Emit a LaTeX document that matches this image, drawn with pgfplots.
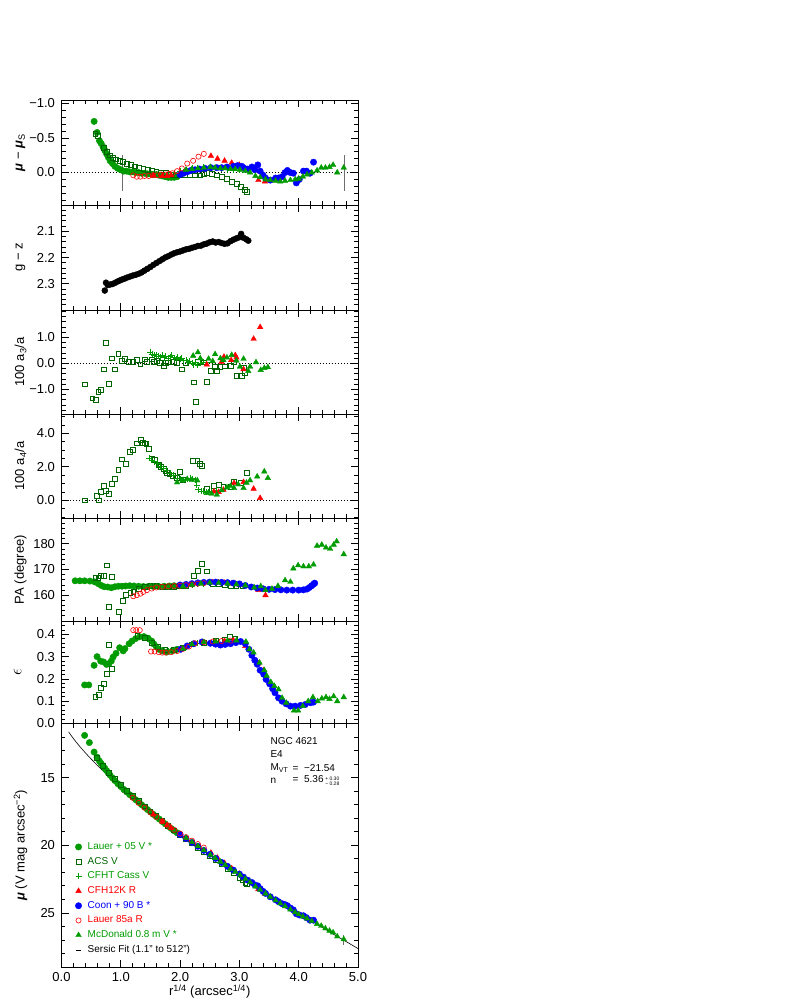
\documentclass[border=0pt]{standalone}
\usepackage{fontspec}
\setmainfont{Liberation Sans}
\usepackage{pgfplots}
\pgfplotsset{compat=1.18}

\definecolor{lgreen}{RGB}{0,155,0}
\definecolor{dgreen}{RGB}{0,100,0}
\definecolor{fitgray}{RGB}{110,110,110}

\newcommand{\bmu}{\textbf{\textit{μ}}}

\pgfplotsset{
  panel/.style={
    at={(61.5pt,#1)}, anchor=south west, scale only axis, width=296.5pt,
    xmin=0, xmax=5, xtick={0,1,2,3,4,5}, minor x tick num=4, xticklabels={},
    tick align=inside, tick pos=both, major tick length=7pt, minor tick length=4pt,
    axis line style={line width=0.9pt},
    every tick/.style={black, line width=0.7pt},
    ticklabel style={font=\fontsize{13}{15}\selectfont},
    yticklabel style={xshift=-3pt},
    label style={font=\fontsize{13}{15}\selectfont},
    every axis y label/.style={at={(axis description cs:-0.138,0.5)}, rotate=90, anchor=center,
      font=\fontsize{13}{15}\selectfont},
  },
  markleg/.style={legend image code/.code={\draw[##1] plot coordinates {(0pt,0pt)};}},
  lineleg/.style={legend image code/.code={\draw[##1] (-2.5pt,0pt) -- (2.5pt,0pt);}},
  lauer05/.style={only marks, mark=*, mark size=3.2pt, color=lgreen},
  acs/.style={only marks, mark=square, mark size=2.4pt, color=dgreen, mark options={line width=0.7pt}},
  cfht/.style={only marks, mark=+, mark size=3pt, color=lgreen, mark options={line width=0.8pt}},
  cfh12k/.style={only marks, mark=triangle*, mark size=3.2pt, color=red},
  coon/.style={only marks, mark=*, mark size=3.2pt, color=blue},
  lauer85/.style={only marks, mark=o, mark size=2.6pt, color=red, mark options={line width=0.6pt}},
  mcd/.style={only marks, mark=triangle*, mark size=3.2pt, color=lgreen},
  zeroline/.style={black, line width=0.8pt, dash pattern=on 1pt off 2pt},
}

\begin{document}
\begin{tikzpicture}
\path[use as bounding box] (0pt,0pt) rectangle (795pt,1004pt);

% ---------------- panel 1: residuals
\begin{axis}[panel=799pt, height=105pt, ymin=-1.05, ymax=0.47, y dir=reverse,
  ytick={-1,-0.5,0}, yticklabels={−1.0,−0.5,0.0}, minor ytick={-1,-0.9,...,0.4},
  ylabel={\bmu\ − \bmu\textsubscript{S}}]
\addplot[zeroline] coordinates {(0,0) (5,0)};
\addplot[fitgray, line width=0.9pt] coordinates {(1.02,-0.25) (1.02,0.27)};
\addplot[fitgray, line width=0.9pt] coordinates {(4.77,-0.25) (4.77,0.27)};
\addplot[lauer05] table {
x y
0.55 -0.74
0.60 -0.58
0.64 -0.46
0.67 -0.42
0.70 -0.37
0.73 -0.32
0.76 -0.27
0.79 -0.22
0.82 -0.17
0.86 -0.13
0.90 -0.09
0.95 -0.06
1.00 -0.04
1.05 -0.02
1.10 -0.02
1.15 -0.01
1.20 -0.01
1.25 0.00
1.30 0.00
1.35 0.01
1.40 0.01
1.45 0.02
1.50 0.02
1.55 0.03
1.60 0.03
1.65 0.04
1.70 0.05
1.75 0.06
1.80 0.07
1.85 0.07
1.90 0.07
1.95 0.06
};
\addplot[acs] table {
x y
0.57 -0.56
0.61 -0.53
0.72 -0.36
0.77 -0.30
0.82 -0.25
0.87 -0.21
0.92 -0.19
0.98 -0.17
1.04 -0.15
1.10 -0.13
1.17 -0.11
1.24 -0.09
1.31 -0.07
1.38 -0.05
1.45 -0.04
1.52 -0.03
1.60 -0.01
1.68 0.00
1.76 0.01
1.84 0.03
1.92 0.04
2.00 0.04
2.08 0.04
2.17 0.04
2.25 0.04
2.34 0.04
2.40 0.02
2.45 0.00
2.53 0.02
2.62 0.04
2.70 0.06
2.79 0.09
2.87 0.13
2.96 0.16
3.02 0.21
3.09 0.25
3.13 0.28
};
\addplot[cfht] table {
x y
1.60 0.02
1.70 0.03
1.80 0.03
1.90 0.00
2.00 -0.02
2.10 -0.04
2.20 -0.06
2.30 -0.07
2.40 -0.08
2.50 -0.07
2.60 -0.06
2.70 -0.05
2.80 -0.04
2.90 -0.03
3.00 -0.03
};
\addplot[cfh12k] table {
x y
1.55 0.04
1.70 0.05
1.78 0.05
1.85 0.04
2.52 -0.24
2.63 -0.20
2.75 -0.17
2.87 -0.14
3.00 -0.11
3.32 0.11
3.43 0.13
};
\addplot[coon] table {
x y
2.00 0.03
2.06 0.01
2.12 -0.01
2.18 -0.03
2.25 -0.04
2.33 -0.05
2.42 -0.06
2.52 -0.07
2.62 -0.07
2.70 -0.07
2.79 -0.08
2.90 -0.09
2.97 -0.10
3.04 -0.09
3.07 -0.07
3.14 -0.05
3.21 -0.08
3.26 -0.04
3.31 -0.11
3.35 -0.02
3.40 0.04
3.44 0.08
3.52 0.11
3.61 0.08
3.66 0.08
3.72 0.06
3.77 0.00
3.81 -0.03
3.86 0.00
3.91 0.01
3.96 0.15
4.01 0.10
4.08 -0.02
4.13 -0.02
4.19 0.01
4.25 -0.15
};
\addplot[lauer85] table {
x y
1.21 0.04
1.27 0.06
1.33 0.06
1.40 0.05
1.47 0.05
1.54 0.04
1.61 0.04
1.68 0.03
1.75 0.03
1.81 0.02
1.87 0.01
1.95 -0.02
2.03 -0.06
2.12 -0.13
2.22 -0.17
2.31 -0.23
2.40 -0.27
};
\addplot[mcd] table {
x y
2.10 -0.04
2.20 -0.05
2.30 -0.06
2.40 -0.07
2.51 -0.08
2.59 -0.07
2.68 -0.06
2.76 -0.06
2.85 -0.05
2.93 -0.05
3.01 -0.04
3.10 -0.02
3.18 0.00
3.27 0.05
3.35 0.07
3.44 0.10
3.52 0.11
3.61 0.12
3.69 0.13
3.77 0.12
3.86 0.11
3.94 0.10
4.00 0.09
4.07 0.06
4.14 0.03
4.22 0.00
4.31 -0.03
4.38 -0.07
4.45 -0.07
4.52 -0.08
4.58 -0.11
4.65 0.00
4.76 -0.07
};
\end{axis}

% ---------------- panel 2: g - z
\begin{axis}[panel=694pt, height=105pt, ymin=2.0, ymax=2.4, y dir=reverse,
  ytick={2.1,2.2,2.3}, yticklabels={2.1,2.2,2.3}, minor ytick={2.0,2.02,...,2.4},
  ylabel={g − z}]
\addplot[only marks, mark=*, mark size=3pt, black] table {
x y
0.73 2.326
0.75 2.296
0.78 2.305
0.82 2.303
0.86 2.301
0.90 2.297
0.94 2.292
0.98 2.288
1.02 2.284
1.06 2.281
1.10 2.277
1.15 2.273
1.20 2.269
1.25 2.266
1.30 2.262
1.35 2.257
1.40 2.250
1.45 2.243
1.50 2.236
1.55 2.228
1.60 2.221
1.65 2.214
1.70 2.207
1.75 2.200
1.80 2.195
1.85 2.189
1.90 2.184
1.95 2.180
2.00 2.177
2.05 2.173
2.10 2.169
2.15 2.167
2.20 2.163
2.25 2.160
2.30 2.156
2.35 2.155
2.40 2.150
2.45 2.147
2.50 2.142
2.55 2.139
2.60 2.143
2.65 2.141
2.70 2.145
2.75 2.148
2.80 2.146
2.85 2.138
2.90 2.132
2.95 2.127
3.00 2.123
3.03 2.110
3.07 2.125
3.12 2.131
3.15 2.136
};
\end{axis}

% ---------------- panel 3: a3
\begin{axis}[panel=590pt, height=104pt, ymin=-1.95, ymax=2.05,
  ytick={-1,0,1}, yticklabels={−1.0,0.0,1.0}, minor ytick={-1.8,-1.6,...,2.0},
  ylabel={100 a\textsubscript{3}/a}]
\addplot[zeroline] coordinates {(0,0) (5,0)};
\addplot[acs] table {
x y
0.39 -0.81
0.52 -1.35
0.58 -1.41
0.62 -1.09
0.67 -1.03
0.71 -0.23
0.75 0.79
0.80 -0.80
0.85 0.19
0.90 -0.23
0.96 0.36
1.02 0.09
1.07 0.17
1.13 0.06
1.20 0.06
1.27 0.13
1.33 -0.04
1.40 0.15
1.44 0.06
1.52 0.15
1.56 0.05
1.61 0.09
1.66 0.02
1.72 -0.09
1.76 0.01
1.80 0.04
1.89 0.06
1.95 0.03
2.03 -0.23
2.10 0.02
2.23 -0.73
2.27 -1.48
2.30 0.05
2.40 0.04
2.45 -0.71
2.52 -0.28
2.58 -0.15
2.62 -0.28
2.68 -0.15
2.75 -0.12
2.85 -0.10
2.90 0.04
2.95 -0.48
3.04 -0.49
3.07 -0.17
3.09 -0.38
};
\addplot[cfht] table {
x y
1.50 0.42
1.53 0.35
1.56 0.30
1.60 0.33
1.63 0.28
1.66 0.25
1.70 0.30
1.73 0.22
1.76 0.27
1.80 0.20
1.83 0.25
1.86 0.30
1.90 0.22
1.93 0.18
1.96 0.24
2.00 0.15
2.03 0.20
2.06 0.10
2.10 0.12
2.13 0.05
2.16 0.08
2.20 0.00
2.23 -0.05
2.26 0.02
2.30 -0.08
2.35 0.00
2.40 0.05
2.45 0.02
};
\addplot[cfh12k] table {
x y
2.45 -0.05
2.70 0.06
2.74 0.25
2.86 0.12
2.93 0.31
2.95 0.22
3.07 -0.23
3.24 0.94
3.35 1.39
};
\addplot[mcd] table {
x y
2.22 0.29
2.30 0.42
2.34 0.19
2.48 0.17
2.55 0.08
2.59 0.35
2.68 0.19
2.73 0.12
2.79 0.22
2.87 0.32
2.95 0.10
3.01 -0.13
3.07 0.17
3.15 -0.30
3.18 -0.13
3.28 0.04
3.36 -0.26
3.42 -0.18
3.48 -0.15
};
\end{axis}

% ---------------- panel 4: a4
\begin{axis}[panel=486pt, height=104pt, ymin=-1.05, ymax=5.15,
  ytick={0,2,4}, yticklabels={0.0,2.0,4.0}, minor ytick={-1,-0.5,...,5},
  ylabel={100 a\textsubscript{4}/a}]
\addplot[zeroline] coordinates {(0,0) (5,0)};
\addplot[acs] table {
x y
0.40 0.00
0.59 0.28
0.63 0.00
0.67 0.53
0.71 0.87
0.75 0.59
0.80 0.40
0.85 0.99
0.90 1.29
0.96 1.82
1.02 2.45
1.08 2.18
1.15 2.91
1.20 3.01
1.27 3.40
1.34 3.60
1.37 3.45
1.40 3.40
1.43 3.35
1.47 3.05
1.52 2.51
1.58 2.41
1.64 2.12
1.68 1.98
1.72 1.86
1.75 1.75
1.78 1.63
1.82 1.55
1.88 1.47
1.95 1.35
2.00 1.72
2.05 1.23
2.22 2.37
2.29 2.37
2.33 2.18
2.37 2.06
2.45 0.69
2.57 0.87
2.65 0.93
2.73 0.83
2.85 0.79
2.91 1.13
3.02 1.03
3.12 1.63
};
\addplot[cfht] table {
x y
1.48 2.50
1.52 2.40
1.56 2.30
1.61 2.20
1.66 2.05
1.72 1.92
1.77 1.80
1.83 1.63
1.88 1.50
1.95 1.34
2.00 1.30
2.06 1.23
2.12 1.28
2.17 1.34
2.21 1.30
2.25 1.23
2.28 0.90
2.31 0.64
2.36 0.55
2.40 0.54
2.44 0.50
2.48 0.49
2.52 0.52
2.57 0.54
2.62 0.60
};
\addplot[cfh12k] table {
x y
2.57 0.53
2.65 0.50
2.73 0.63
2.91 1.03
3.07 1.09
3.24 0.69
3.35 0.14
};
\addplot[mcd] table {
x y
1.95 1.07
2.05 1.20
2.12 1.27
2.20 1.22
2.29 1.19
2.45 0.44
2.53 0.40
2.62 0.34
2.70 0.60
2.79 0.77
2.85 0.85
2.91 0.73
2.98 0.95
3.07 0.73
3.12 1.05
3.18 1.19
3.30 1.42
3.42 1.72
3.48 1.33
};
\end{axis}

% ---------------- panel 5: PA
\begin{axis}[panel=383pt, height=103pt, ymin=150, ymax=190,
  ytick={160,170,180}, yticklabels={160,170,180}, minor ytick={150,152,...,190},
  ylabel={PA (degree)}]
\addplot[lauer05] table {
x y
0.23 165.6
0.31 165.6
0.39 165.6
0.48 165.5
0.56 165.2
0.62 164.5
0.67 163.8
0.72 163.3
0.78 163.2
0.84 162.9
0.90 163.3
0.96 163.5
1.02 163.5
1.08 163.6
1.15 163.7
1.22 163.6
1.30 163.5
1.38 163.4
1.46 163.4
1.55 163.4
1.64 163.4
1.73 163.5
1.82 163.6
1.90 163.7
};
\addplot[acs] table {
x y
0.57 166.8
0.62 166.8
0.67 167.5
0.71 167.5
0.77 171.6
0.80 155.5
0.85 167.2
0.97 153.5
1.03 157.7
1.09 160.0
1.16 161.0
1.21 161.3
1.30 162.5
1.40 163.2
1.50 163.5
1.60 163.5
1.70 163.4
1.80 163.3
1.90 163.3
2.00 163.5
2.10 163.8
2.23 167.5
2.30 169.5
2.37 172.2
2.45 169.3
2.55 164.5
2.65 164.3
2.75 164.0
2.85 163.8
2.95 163.6
3.05 163.5
};
\addplot[cfht] table {
x y
1.50 163.5
1.60 163.4
1.70 163.3
1.80 163.3
1.90 163.4
2.00 163.5
2.10 163.7
2.20 164.0
2.30 164.3
2.40 164.5
2.50 164.6
2.60 164.5
};
\addplot[cfh12k] table {
x y
2.55 165.0
2.65 165.0
2.75 164.8
2.87 164.5
3.00 164.0
3.32 162.0
3.44 160.0
};
\addplot[coon] table {
x y
2.00 164.0
2.10 164.2
2.20 164.5
2.30 164.8
2.40 165.0
2.50 165.1
2.60 165.1
2.70 165.0
2.80 164.9
2.90 164.7
3.00 164.4
3.10 163.8
3.20 163.2
3.30 162.8
3.40 162.5
3.50 162.3
3.60 162.2
3.70 162.1
3.80 162.0
3.90 162.0
4.00 162.0
4.08 162.1
4.14 162.4
4.18 163.0
4.22 163.7
4.25 164.3
4.27 164.7
};
\addplot[lauer85] table {
x y
1.21 159.6
1.27 160.0
1.33 160.6
1.38 161.3
1.44 162.0
1.52 162.6
1.60 163.0
1.70 163.3
1.80 163.5
1.90 163.6
2.00 163.7
2.10 163.9
2.20 164.2
2.30 164.5
2.40 164.7
};
\addplot[mcd] table {
x y
2.05 163.5
2.20 164.0
2.35 164.5
2.50 164.8
2.65 164.8
2.80 164.5
2.95 164.2
3.10 163.8
3.25 163.0
3.36 163.5
3.44 162.0
3.55 162.5
3.65 163.6
3.77 165.8
3.86 165.2
3.91 170.4
3.99 171.6
4.08 171.2
4.17 171.2
4.25 171.9
4.31 179.2
4.39 179.6
4.46 178.5
4.53 178.0
4.59 179.6
4.64 180.9
4.76 175.9
};
\end{axis}

% ---------------- panel 6: ellipticity
\begin{axis}[panel=280.5pt, height=102.5pt, ymin=0, ymax=0.46,
  ytick={0,0.1,0.2,0.3,0.4}, yticklabels={0.0,0.1,0.2,0.3,0.4}, minor ytick={0,0.02,...,0.46},
  ylabel={\fontsize{17}{19}\selectfont$\epsilon$},
  ylabel style={at={(axis description cs:-0.148,0.5)}}]
\addplot[lauer05] table {
x y
0.39 0.173
0.46 0.173
0.55 0.261
0.60 0.300
0.66 0.280
0.71 0.276
0.76 0.265
0.80 0.269
0.84 0.280
0.87 0.298
0.92 0.315
0.98 0.340
1.04 0.326
1.07 0.336
1.14 0.358
1.19 0.370
1.25 0.381
1.32 0.389
1.39 0.390
1.46 0.383
1.52 0.370
1.56 0.356
1.60 0.344
1.64 0.333
1.70 0.326
1.78 0.321
1.87 0.326
1.95 0.333
};
\addplot[acs] table {
x y
0.57 0.118
0.63 0.127
0.67 0.160
0.71 0.178
0.76 0.223
0.80 0.353
0.85 0.246
1.28 0.393
1.40 0.385
1.53 0.363
1.62 0.345
1.75 0.330
1.90 0.330
2.05 0.340
2.20 0.355
2.40 0.362
2.60 0.370
2.75 0.378
2.84 0.389
2.92 0.382
};
\addplot[cfht] table {
x y
1.50 0.370
1.60 0.345
1.70 0.330
1.80 0.325
1.90 0.330
2.00 0.335
2.10 0.345
2.20 0.355
2.30 0.360
2.40 0.360
2.50 0.362
};
\addplot[cfh12k] table {
x y
2.60 0.368
2.75 0.370
2.90 0.373
3.10 0.348
3.32 0.269
3.41 0.239
};
\addplot[coon] table {
x y
2.01 0.333
2.12 0.348
2.23 0.358
2.37 0.366
2.51 0.360
2.60 0.356
2.68 0.352
2.76 0.355
2.85 0.358
2.94 0.363
3.02 0.368
3.10 0.358
3.16 0.333
3.21 0.306
3.26 0.284
3.30 0.266
3.35 0.239
3.41 0.221
3.45 0.198
3.51 0.178
3.56 0.156
3.60 0.138
3.66 0.115
3.72 0.100
3.79 0.088
3.86 0.078
3.94 0.078
4.03 0.081
4.11 0.085
4.20 0.093
4.25 0.096
};
\addplot[lauer85] table {
x y
1.21 0.419
1.26 0.419
1.32 0.419
1.51 0.323
1.57 0.323
1.64 0.320
1.70 0.318
1.76 0.318
1.85 0.320
1.95 0.325
2.05 0.335
2.15 0.345
2.25 0.360
2.40 0.365
2.55 0.368
2.70 0.370
2.85 0.372
};
\addplot[mcd] table {
x y
2.05 0.335
2.20 0.355
2.40 0.365
2.60 0.368
2.80 0.372
2.95 0.372
3.11 0.367
3.17 0.333
3.24 0.318
3.34 0.273
3.42 0.239
3.46 0.214
3.53 0.186
3.59 0.168
3.66 0.153
3.72 0.115
3.79 0.093
3.92 0.058
3.99 0.058
4.07 0.078
4.16 0.100
4.24 0.118
4.32 0.100
4.39 0.112
4.46 0.118
4.52 0.110
4.59 0.122
4.65 0.100
4.76 0.118
};
\end{axis}

% ---------------- panel 7: surface brightness
\begin{axis}[panel=37pt, height=243.5pt, ymin=11, ymax=29, y dir=reverse,
  ytick={15,20,25}, yticklabels={15,20,25}, minor ytick={11,12,...,29},
  xticklabels={0.0,1.0,2.0,3.0,4.0,5.0},
  xticklabel style={yshift=-2pt},
  xlabel={r\textsuperscript{1/4} (arcsec\textsuperscript{1/4})},
  xlabel style={yshift=4pt},
  ylabel={\bmu\ (V mag arcsec\textsuperscript{−2})},
  legend cell align=left,
  legend style={draw=none, fill=none, inner sep=0pt,
    at={(axis description cs:0.046,0.045)}, anchor=south west,
    font=\fontsize{10}{12}\selectfont, row sep=2.7pt,
    nodes={inner sep=1pt, text height=7.5pt, text depth=2.5pt},
    /tikz/every odd column/.append style={column sep=5pt}},
]
\addplot[lauer05, markleg] table {
x y
0.39 11.88
0.47 12.41
0.55 13.11
0.60 13.49
0.64 13.78
0.67 13.96
0.70 14.13
0.73 14.31
0.76 14.48
0.79 14.66
0.82 14.82
0.86 15.03
0.90 15.22
0.95 15.45
1.00 15.66
1.05 15.87
1.10 16.06
1.15 16.26
1.20 16.44
1.25 16.63
1.30 16.81
1.35 17.00
1.40 17.18
1.45 17.36
1.50 17.54
1.55 17.72
1.60 17.89
1.65 18.07
1.70 18.25
1.75 18.42
1.80 18.60
1.85 18.76
1.90 18.93
1.95 19.08
};
\addlegendentry{\textcolor{lgreen}{Lauer + 05 V *}}
\addplot[acs, markleg] table {
x y
0.60 13.54
0.70 14.12
0.80 14.65
0.90 15.12
1.00 15.54
1.10 15.95
1.20 16.35
1.30 16.74
1.40 17.12
1.50 17.49
1.60 17.85
1.70 18.20
1.80 18.55
1.90 18.90
2.00 19.22
2.10 19.54
2.20 19.86
2.30 20.17
2.40 20.46
2.50 20.76
2.60 21.08
2.70 21.40
2.80 21.73
2.90 22.06
3.00 22.42
3.05 22.60
3.10 22.77
3.13 22.88
};
\addlegendentry{\textcolor{dgreen}{ACS V}}
\addplot[cfht, markleg] table {
x y
1.60 17.88
1.70 18.23
1.80 18.56
1.90 18.86
2.00 19.16
2.10 19.46
2.20 19.76
2.30 20.06
2.40 20.36
2.50 20.67
2.60 20.98
2.70 21.29
2.80 21.60
2.90 21.90
3.00 22.20
};
\addlegendentry{\textcolor{lgreen}{CFHT Cass V}}
\addplot[cfh12k, markleg] table {
x y
1.55 17.73
1.70 18.25
1.78 18.51
1.85 18.73
2.52 20.56
2.63 20.93
2.75 21.32
2.87 21.71
3.00 22.12
3.32 23.25
3.43 23.58
};
\addlegendentry{\textcolor{red}{CFH12K R}}
\addplot[coon, markleg] table {
x y
2.00 19.21
2.10 19.50
2.20 19.79
2.30 20.08
2.40 20.38
2.50 20.67
2.60 20.97
2.70 21.27
2.80 21.56
2.90 21.84
3.00 22.13
3.07 22.36
3.14 22.58
3.21 22.75
3.26 22.93
3.31 23.00
3.35 23.21
3.40 23.41
3.44 23.56
3.52 23.81
3.61 24.03
3.66 24.17
3.72 24.32
3.77 24.39
3.81 24.47
3.86 24.64
3.91 24.78
3.96 25.06
4.01 25.15
4.08 25.21
4.13 25.35
4.19 25.54
4.25 25.54
};
\addlegendentry{\textcolor{blue}{Coon + 90 B *}}
\addplot[lauer85, markleg] table {
x y
1.20 16.49
1.30 16.87
1.40 17.22
1.50 17.57
1.60 17.90
1.70 18.23
1.80 18.55
1.90 18.86
2.00 19.13
2.10 19.40
2.20 19.66
2.30 19.91
2.40 20.17
};
\addlegendentry{\textcolor{red}{Lauer 85a R}}
\addplot[mcd, markleg] table {
x y
2.10 19.46
2.20 19.77
2.30 20.07
2.40 20.37
2.51 20.70
2.59 20.94
2.68 21.22
2.76 21.46
2.85 21.74
2.93 21.97
3.01 22.21
3.10 22.49
3.18 22.74
3.27 23.05
3.35 23.30
3.44 23.58
3.52 23.81
3.61 24.07
3.69 24.30
3.77 24.51
3.86 24.75
3.94 24.96
4.00 25.11
4.07 25.27
4.14 25.42
4.22 25.61
4.31 25.82
4.38 25.96
4.45 26.15
4.52 26.32
4.58 26.45
4.65 26.74
4.76 26.95
};
\addlegendentry{\textcolor{lgreen}{McDonald 0.8 m V *}}
\addplot[black, line width=0.6pt, smooth, lineleg] table {
x y
0.12 11.620
0.15 11.808
0.20 12.107
0.25 12.387
0.30 12.654
0.40 13.155
0.50 13.625
0.60 14.071
0.70 14.499
0.80 14.912
0.90 15.311
1.00 15.700
1.25 16.631
1.50 17.515
1.75 18.364
2.00 19.180
2.25 19.972
2.50 20.742
2.75 21.492
3.00 22.226
3.25 22.944
3.50 23.647
3.75 24.339
4.00 25.018
4.25 25.686
4.50 26.347
4.75 26.994
5.00 27.636
};
\addlegendentry{Sersic Fit (1.1" to 512")}
\addplot[fitgray, line width=0.9pt, forget plot] coordinates {(1.02,15.4) (1.02,16.15)};
\addplot[fitgray, line width=0.9pt, forget plot] coordinates {(4.76,26.65) (4.76,27.4)};
\node[anchor=west, font=\fontsize{10}{12}\selectfont] at (axis cs:3.466,12.30) {NGC 4621};
\node[anchor=west, font=\fontsize{10}{12}\selectfont] at (axis cs:3.466,13.28) {E4};
\node[anchor=west, font=\fontsize{10}{12}\selectfont] at (axis cs:3.466,14.28) {M\textsubscript{VT}};
\node[anchor=west, font=\fontsize{10}{12}\selectfont] at (axis cs:3.84,14.28) {=\ \ −21.54};
\node[anchor=west, font=\fontsize{10}{12}\selectfont] at (axis cs:3.466,15.27) {n};
\node[anchor=west, font=\fontsize{10}{12}\selectfont, inner ysep=0pt] at (axis cs:3.84,15.27)
  {=\ \ 5.36\,\raisebox{-1.2pt}{\fontsize{5}{5.2}\selectfont\begin{tabular}[c]{@{}l@{}}+ 0.30\\− 0.28\end{tabular}}};
\end{axis}
\end{tikzpicture}
\end{document}
